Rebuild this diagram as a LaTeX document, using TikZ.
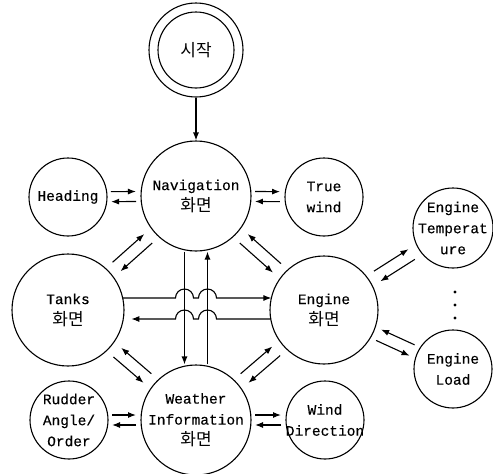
\documentclass[tikz,border=0pt]{standalone}
\usepackage{fontspec}
\setmainfont{Liberation Mono}[FakeBold=0.3,BoldFont={Liberation Mono}]
\newfontfamily\kr{Noto Sans CJK KR}
\usetikzlibrary{calc,arrows.meta}
\newcommand\kor[1]{{\kr\fontsize{17}{21}\selectfont #1}}
% #1 lower/left node, #2 other node, #3 dist from #1 centre, #4 dist from #2 centre, #5 offset, #6 angle, #7 opposite angle
\newcommand\pairarrows[7]{%
 \draw[arr] ($(#1)!#3!(#2)!#5!#6:(#2)$) -- ($(#2)!#4!(#1)!#5!#7:(#1)$);
 \draw[arr] ($(#2)!#4!(#1)!#5!#6:(#1)$) -- ($(#1)!#3!(#2)!#5!#7:(#2)$);}
\begin{document}
\begin{tikzpicture}[x=1pt,y=-1pt,line width=1.1pt,
  st/.style={circle,draw,inner sep=-10pt,align=center,font=\fontsize{14.5}{21}\selectfont},
  arr/.style={-{Latex[length=8pt,width=6pt]}}]
\useasboundingbox (0,0) rectangle (493,474);
% nodes
\node[st,minimum size=94pt] (start) at (196,50) {\kor{시작}};
\draw (start.center) circle[radius=38];
\node[st,minimum size=110pt] (nav) at (196,196) {Navigation\\\kor{화면}};
\node[st,minimum size=78pt] (head) at (68,197) {Heading};
\node[st,minimum size=78pt] (tw) at (324,197) {True\\wind};
\node[st,minimum size=112pt] (tanks) at (68,310) {Tanks\\\kor{화면}};
\node[st,minimum size=108pt] (eng) at (324,310) {Engine\\\kor{화면}};
\node[st,minimum size=80pt] (etemp) at (453,228) {Engine\\Temperat\\ure};
\node[st,minimum size=78pt] (eload) at (453,369) {Engine\\Load};
\node[st,minimum size=110pt] (wea) at (196,420) {Weather\\Information\\\kor{화면}};
\node[st,minimum size=78pt] (rud) at (69,420) {Rudder\\Angle/\\Order};
\node[st,minimum size=78pt] (wd) at (325,420) {Wind\\Direction};
\foreach \yy in {292,305,318} \fill (455,\yy) circle[radius=1.6];
% connectors
\draw[arr] (start) -- (nav);
\draw[arr] ([xshift=-11.5pt]nav.south) -- ([xshift=-11.5pt]wea.north);
\draw[arr] ([xshift=11.5pt]wea.north) -- ([xshift=11.5pt]nav.south);
% horizontal pairs
\pairarrows{head}{nav}{43pt}{60pt}{5pt}{90}{-90}
\pairarrows{nav}{tw}{59pt}{44pt}{5pt}{90}{-90}
\pairarrows{rud}{wea}{43pt}{60pt}{5pt}{90}{-90}
\pairarrows{wea}{wd}{59pt}{44pt}{5pt}{90}{-90}
% diagonal pairs
\pairarrows{tanks}{nav}{65pt}{64pt}{6pt}{90}{-90}
\pairarrows{eng}{nav}{63pt}{64pt}{6pt}{-90}{90}
\pairarrows{wea}{tanks}{64pt}{65pt}{6pt}{-90}{90}
\pairarrows{wea}{eng}{64pt}{63pt}{6pt}{90}{-90}
\pairarrows{eng}{etemp}{63pt}{49pt}{6pt}{90}{-90}
\pairarrows{eload}{eng}{45pt}{60pt}{6pt}{-90}{90}
% tanks <-> engine with jumps
\draw[arr] ([shift={(54.7,-12)}]tanks.center) -- (175.5,298)
  arc[start angle=180,end angle=360,radius=9] -- (198.5,298)
  arc[start angle=180,end angle=360,radius=9] -- ([shift={(-52.6,-12)}]eng.center);
\draw[arr,shorten >=8pt] ([shift={(-53.2,9)}]eng.center) -- (216.5,319)
  arc[start angle=0,end angle=-180,radius=9] -- (193.5,319)
  arc[start angle=0,end angle=-180,radius=9] -- ([shift={(55.3,9)}]tanks.center);
\end{tikzpicture}
\end{document}
